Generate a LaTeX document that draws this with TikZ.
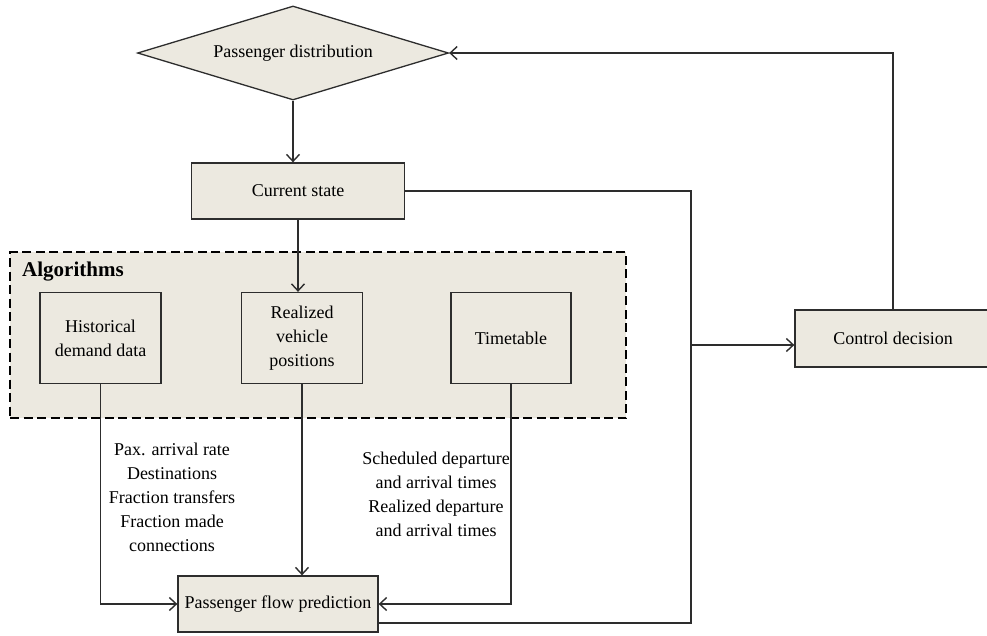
\documentclass[tikz,border=0pt]{standalone}
\usepackage{fontspec}
\setmainfont{Liberation Serif}
\usetikzlibrary{shapes.geometric,arrows.meta,calc}
\definecolor{boxfill}{RGB}{236,233,224}
\definecolor{linec}{RGB}{45,45,45}
\begin{document}
\begin{tikzpicture}[x=1pt,y=-1pt,
  font=\fontsize{18}{24}\selectfont,
  box/.style={draw=linec, line width=1.3pt, fill=boxfill, inner sep=2pt, align=center},
  ln/.style={draw=linec, line width=1.3pt},
  arr/.style={ln, -{Straight Barb[length=7pt,width=13pt,line width=1.4pt]}},
  lbl/.style={align=center, inner sep=0pt}]
\useasboundingbox (0,0) rectangle (987,635);
% dashed group
\node[draw=black, fill=boxfill, line width=2.8pt, dash pattern=on 9pt off 4.5pt,
      minimum width=616pt, minimum height=166pt, inner sep=0pt] (alg) at (318,335) {};
\node[anchor=west, inner sep=0pt, font=\fontsize{21}{24}\selectfont\bfseries] (alglab) at (22,272) {Algorithms};
% nodes
\node[box, diamond, aspect=3.3, minimum width=311pt, minimum height=94pt] (diam) at (293,53) {Passenger distribution};
\node[box, minimum width=213pt, minimum height=56pt] (cur) at (298,191) {Current state};
\node[box, minimum width=121pt, minimum height=91pt] (hist) at (100.5,338) {Historical\\demand data};
\node[box, minimum width=121pt, minimum height=91pt] (real) at (302,338) {Realized\\vehicle\\positions};
\node[box, minimum width=120pt, minimum height=91pt] (time) at (511,338) {Timetable};
\node[box, minimum width=200pt, minimum height=56pt] (flow) at (278,604) {Passenger flow prediction};
\node[box, minimum width=196pt, minimum height=57pt] (ctrl) at (893,338.5) {Control decision};
% labels
\node[lbl] (lab1) at (172,497) {Pax. arrival rate\\Destinations\\Fraction transfers\\Fraction made\\connections};
\node[lbl] (lab2) at (436,494) {Scheduled departure\\and arrival times\\Realized departure\\and arrival times};
% junction coordinates
\coordinate (jt) at (691,191);
\coordinate (jb) at (691,623);
% connectors
\draw[arr] (diam.south) -- (diam.south |- cur.north);
\draw[arr] (cur.south) -- (cur.south |- real.north);
\draw[arr] (hist.south) |- (flow.west);
\draw[arr] (real.south) -- (real.south |- flow.north);
\draw[arr] (time.south) |- (flow.east);
\draw[ln] (cur.east) -- (jt) -- (jb) -- (flow.east |- jb);
\draw[arr] (jt |- 0,345) -- (ctrl.west |- 0,345);
\draw[arr] (ctrl.north) |- (diam.east);
\end{tikzpicture}
\end{document}
